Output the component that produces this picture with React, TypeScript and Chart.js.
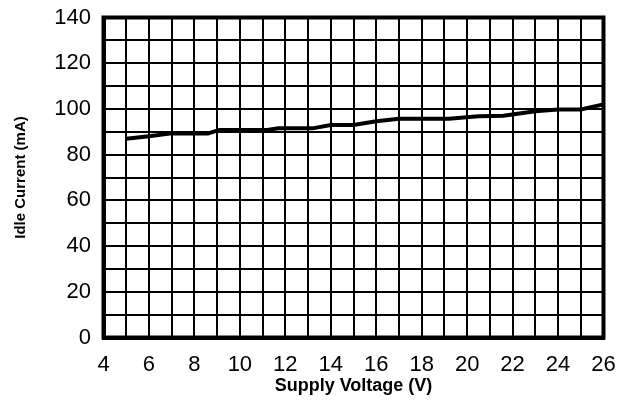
import React, { useEffect, useRef } from "react";
import { Chart, registerables } from "chart.js";

Chart.register(...registerables);

const supplyVoltage = [5, 6, 7, 8.6, 9.1, 11.2, 11.7, 13.2, 14, 15, 16, 17, 19.2, 20.5, 21.6, 23, 24, 25, 26];
const idleCurrent = [87, 88, 89.3, 89.3, 90.8, 90.8, 91.5, 91.5, 93, 93, 94.6, 95.7, 95.7, 96.8, 97, 99, 99.7, 99.8, 102];
const xTickLabels = [4, 6, 8, 10, 12, 14, 16, 18, 20, 22, 24, 26];
const yTickLabels = [0, 20, 40, 60, 80, 100, 120, 140];

const xTitle = "Supply Voltage (V)";
const yTitle = "Idle Current (mA)";

const frame = {
  id: "frame",
  afterDatasetsDraw(chart: any) {
    const { ctx, chartArea } = chart;
    ctx.save();
    ctx.strokeStyle = "#000";
    ctx.lineWidth = 4;
    ctx.strokeRect(chartArea.left, chartArea.top, chartArea.right - chartArea.left, chartArea.bottom - chartArea.top);
    ctx.restore();
  },
};

export default function App() {
  const ref = useRef<HTMLCanvasElement | null>(null);
  useEffect(() => {
    if (!ref.current) return;
    const chart = new Chart(ref.current, {
      type: "line",
      data: {
        datasets: [
          {
            data: supplyVoltage.map((x, i) => ({ x, y: idleCurrent[i] })),
            borderColor: "#000",
            borderWidth: 4,
            pointRadius: 0,
            tension: 0,
            fill: false,
          },
        ],
      },
      options: {
        animation: false,
        responsive: false,
        layout: { padding: { top: 17.5, right: 16.5, left: 0, bottom: 0 } },
        plugins: { legend: { display: false }, tooltip: { enabled: false } },
        scales: {
          x: {
            type: "linear",
            min: 4,
            max: 26,
            afterFit: (s: any) => {
              s.height = 63.5;
              s.paddingLeft = 0;
              s.paddingRight = 0;
            },
            ticks: {
              stepSize: 1,
              autoSkip: false,
              maxRotation: 0,
              padding: 14,
              color: "#000",
              font: { family: "Liberation Sans", size: 22 },
              callback: (v: any) => (xTickLabels.includes(Number(v)) ? String(v) : ""),
            },
            grid: { color: "#000", lineWidth: 2, drawTicks: false },
            border: { color: "#000", width: 4 },
            title: {
              display: true,
              text: xTitle,
              color: "#000",
              font: { family: "Liberation Sans", size: 18, weight: "bold" },
              padding: { top: 0, bottom: 4.5 },
            },
          },
          y: {
            type: "linear",
            min: 0,
            max: 140,
            afterFit: (s: any) => {
              s.width = 103.5;
              s.paddingTop = 0;
              s.paddingBottom = 0;
            },
            ticks: {
              stepSize: 10,
              autoSkip: false,
              padding: 12.5,
              color: "#000",
              font: { family: "Liberation Sans", size: 22 },
              callback: (v: any) => (yTickLabels.includes(Number(v)) ? String(v) : ""),
            },
            grid: { color: "#000", lineWidth: 2, drawTicks: false },
            border: { color: "#000", width: 4 },
            title: {
              display: true,
              text: yTitle,
              color: "#000",
              font: { family: "Liberation Sans", size: 15, weight: "bold" },
              padding: { top: 11.5, bottom: 0 },
            },
          },
        },
      },
      plugins: [frame],
    });
    return () => chart.destroy();
  }, []);
  return (
    <div style={{ position: "fixed", left: 0, top: 0, width: 620, height: 401, background: "#fff" }}>
      <canvas ref={ref} width={620} height={401} style={{ display: "block" }} />
    </div>
  );
}
